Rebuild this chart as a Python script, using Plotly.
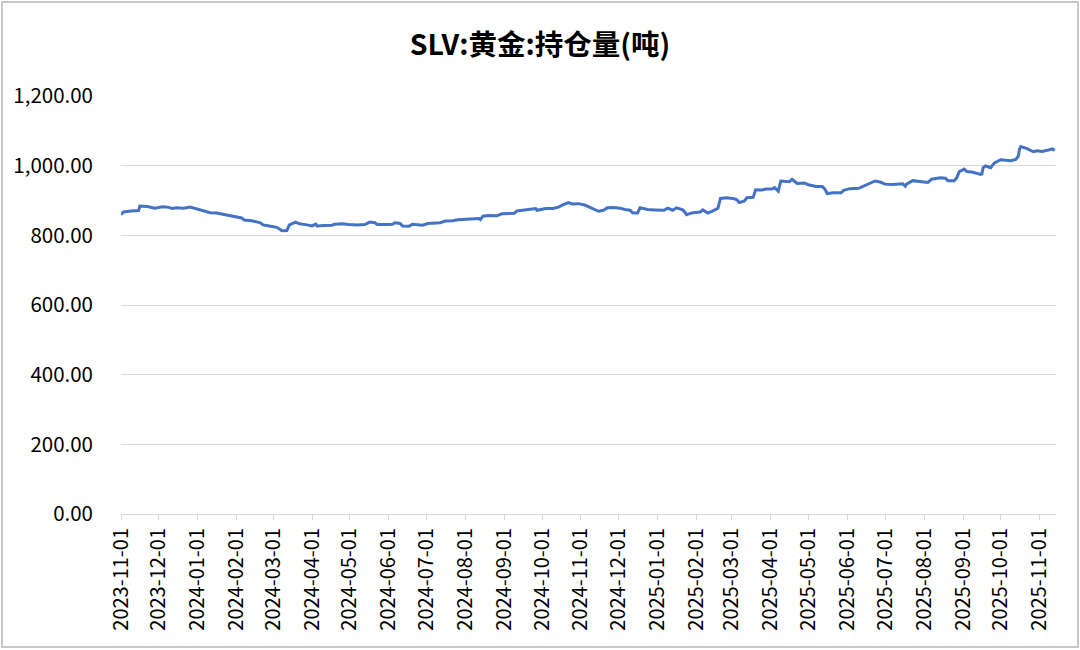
import plotly.graph_objects as go

dates = [
    "2023-11-01", "2023-11-03", "2023-11-09", "2023-11-14", "2023-11-15", "2023-11-16",
    "2023-11-22", "2023-11-28", "2023-12-04", "2023-12-08", "2023-12-12", "2023-12-15",
    "2023-12-21", "2023-12-26", "2023-12-29", "2024-01-03", "2024-01-08", "2024-01-11",
    "2024-01-16", "2024-01-22", "2024-01-26", "2024-01-31", "2024-02-05", "2024-02-07",
    "2024-02-13", "2024-02-20", "2024-02-22", "2024-02-27", "2024-03-04", "2024-03-07",
    "2024-03-08", "2024-03-12", "2024-03-14", "2024-03-19", "2024-03-22", "2024-03-28",
    "2024-04-01", "2024-04-04", "2024-04-05", "2024-04-11", "2024-04-17", "2024-04-19",
    "2024-04-25", "2024-04-30", "2024-05-06", "2024-05-07", "2024-05-13", "2024-05-17",
    "2024-05-21", "2024-05-23", "2024-05-31", "2024-06-04", "2024-06-06", "2024-06-10",
    "2024-06-12", "2024-06-17", "2024-06-20", "2024-06-24", "2024-06-28", "2024-07-02",
    "2024-07-08", "2024-07-12", "2024-07-16", "2024-07-22", "2024-07-26", "2024-07-31",
    "2024-08-07", "2024-08-12", "2024-08-13", "2024-08-15", "2024-08-19", "2024-08-26",
    "2024-08-30", "2024-09-03", "2024-09-09", "2024-09-11", "2024-09-16", "2024-09-23",
    "2024-09-26", "2024-09-27", "2024-10-01", "2024-10-04", "2024-10-10", "2024-10-14",
    "2024-10-18", "2024-10-22", "2024-10-25", "2024-10-30", "2024-11-04", "2024-11-07",
    "2024-11-11", "2024-11-15", "2024-11-19", "2024-11-22", "2024-11-27", "2024-12-02",
    "2024-12-06", "2024-12-10", "2024-12-12", "2024-12-16", "2024-12-18", "2024-12-24",
    "2024-12-30", "2025-01-06", "2025-01-09", "2025-01-13", "2025-01-16", "2025-01-21",
    "2025-01-23", "2025-01-24", "2025-01-29", "2025-02-04", "2025-02-06", "2025-02-10",
    "2025-02-14", "2025-02-18", "2025-02-20", "2025-02-25", "2025-03-03", "2025-03-05",
    "2025-03-07", "2025-03-11", "2025-03-13", "2025-03-18", "2025-03-20", "2025-03-25",
    "2025-03-28", "2025-04-02", "2025-04-04", "2025-04-07", "2025-04-09", "2025-04-14",
    "2025-04-16", "2025-04-18", "2025-04-22", "2025-04-28", "2025-05-01", "2025-05-07",
    "2025-05-12", "2025-05-14", "2025-05-16", "2025-05-21", "2025-05-27", "2025-05-29",
    "2025-06-03", "2025-06-10", "2025-06-13", "2025-06-18", "2025-06-23", "2025-06-27",
    "2025-07-01", "2025-07-07", "2025-07-11", "2025-07-15", "2025-07-17", "2025-07-18",
    "2025-07-23", "2025-07-29", "2025-08-04", "2025-08-07", "2025-08-11", "2025-08-14",
    "2025-08-18", "2025-08-20", "2025-08-25", "2025-08-27", "2025-08-29", "2025-09-02",
    "2025-09-04", "2025-09-09", "2025-09-15", "2025-09-16", "2025-09-17", "2025-09-19",
    "2025-09-23", "2025-09-26", "2025-10-01", "2025-10-06", "2025-10-09", "2025-10-13",
    "2025-10-15", "2025-10-16", "2025-10-17", "2025-10-22", "2025-10-27", "2025-10-30",
    "2025-11-03", "2025-11-07", "2025-11-11", "2025-11-13",
]

holdings = [
    860, 867, 870, 871, 871, 884,
    883, 878, 882, 881, 877, 879,
    878, 881, 878, 873, 870, 865,
    864, 860, 857, 852, 850, 844,
    842, 836, 830, 827, 823, 816,
    813, 814, 830, 838, 833, 830,
    827, 832, 827, 828, 829, 832,
    833, 831, 832, 830, 831, 838,
    836, 831, 831, 832, 836, 834,
    827, 826, 832, 830, 829, 834,
    834, 836, 841, 842, 845, 846,
    847, 848, 845, 855, 857, 856,
    862, 863, 863, 870, 873, 876,
    877, 872, 874, 877, 877, 881,
    888, 894, 890, 891, 887, 882,
    875, 869, 872, 879, 880, 878,
    874, 872, 865, 864, 879, 874,
    873, 872, 878, 872, 879, 873,
    865, 859, 865, 867, 873, 864,
    870, 878, 906, 908, 905, 902,
    894, 899, 908, 909, 931, 930,
    933, 933, 937, 927, 956, 956,
    954, 961, 949, 950, 945, 940,
    940, 933, 920, 922, 922, 929,
    934, 935, 940, 949, 956, 953,
    947, 946, 947, 948, 941, 947,
    957, 955, 952, 961, 963, 965,
    964, 957, 957, 965, 983, 990,
    983, 981, 975, 976, 994, 999,
    994, 1008, 1017, 1014, 1014, 1018,
    1027, 1048, 1055, 1049, 1040, 1043,
    1041, 1044, 1048, 1044,
]

month_ticks = [
    "2023-11-01", "2023-12-01", "2024-01-01", "2024-02-01", "2024-03-01", "2024-04-01",
    "2024-05-01", "2024-06-01", "2024-07-01", "2024-08-01", "2024-09-01", "2024-10-01",
    "2024-11-01", "2024-12-01", "2025-01-01", "2025-02-01", "2025-03-01", "2025-04-01",
    "2025-05-01", "2025-06-01", "2025-07-01", "2025-08-01", "2025-09-01", "2025-10-01",
    "2025-11-01",
]

y_ticks = [0, 200, 400, 600, 800, 1000, 1200]
title_text = "SLV:黄金:持仓量(吨)"

FONT = "Noto Sans CJK SC"

fig = go.Figure()
fig.add_trace(go.Scatter(
    x=dates, y=holdings, mode="lines",
    line=dict(color="#4472C4", width=3),
    hoverinfo="x+y", showlegend=False,
))

fig.update_layout(
    width=1080, height=650,
    paper_bgcolor="white", plot_bgcolor="white",
    margin=dict(l=121, r=24, t=96, b=136),
    font=dict(family=FONT, color="#000000"),
    title=dict(text="<b>" + title_text + "</b>", x=0.5, xref="container", xanchor="center",
               y=1 - 45 / 650, yanchor="middle", font=dict(size=28.5, family=FONT, color="#000000")),
)

fig.update_xaxes(
    type="date",
    range=["2023-11-01", "2025-11-14"],
    tickmode="array", tickvals=month_ticks, ticktext=month_ticks,
    tickangle=-90, tickfont=dict(size=20, family=FONT, color="#000000"),
    showgrid=False, zeroline=False,
    showline=True, linecolor="#d9d9d9", linewidth=1,
    ticks="outside", ticklen=5, tickcolor="#d9d9d9", tickwidth=1,
)

fig.update_yaxes(
    range=[0, 1200], tickmode="array", tickvals=y_ticks,
    tickformat=",.2f", tickfont=dict(size=20.5, family=FONT, color="#000000"),
    showgrid=True, gridcolor="#d9d9d9", gridwidth=1,
    zeroline=False, showline=False, ticks="",
    ticklabelstandoff=27,
)

fig.add_shape(
    type="rect", xref="paper", yref="paper",
    x0=(2 - 121) / 935, x1=(1078 - 121) / 935,
    y0=(514 - 647) / 418, y1=(514 - 2) / 418,
    line=dict(color="#c8c8c8", width=2), fillcolor="rgba(0,0,0,0)", layer="below",
)

fig.write_html(
    "out.html",
    config={"displayModeBar": False},
    post_script="document.body.style.margin='0';document.body.style.overflow='hidden';",
)
